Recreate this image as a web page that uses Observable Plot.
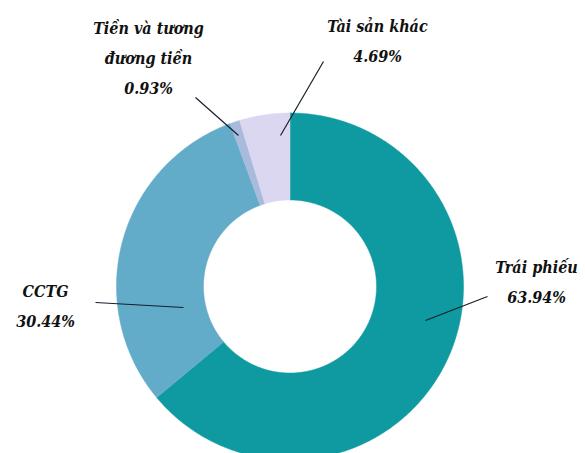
<!DOCTYPE html>
<html>
<head>
<meta charset="utf-8">
<script src="https://cdn.jsdelivr.net/npm/d3@7"></script>
<script src="https://cdn.jsdelivr.net/npm/@observablehq/plot@0.6"></script>
<style>
  html, body { margin: 0; padding: 0; background: #fff; }
  #chart { width: 585px; height: 453px; overflow: hidden; }
  #chart text { font-stretch: condensed; }
</style>
</head>
<body>
<div id="chart"></div>
<script>
// ---- data ----
const categories = ["Trái phiếu", "CCTG", "Tiền và tương đương tiền", "Tài sản khác"];
const labelTexts = ["Trái phiếu", "CCTG", "Tiền và tương\nđương tiền", "Tài sản khác"];
const shares = [63.94, 30.44, 0.93, 4.69];
const colors = ["#0e9aa0", "#62abc9", "#a9bbdc", "#dbd7f0"];

// ---- layout (pixel space) ----
const W = 585, H = 453;
const cx = 289.5, cy = 286, rOuter = 173.5, rInner = 86.5;
const labelLayout = [
  {tx: 536, ty: 266, lx1: 487, ly1: 296, lx2: 425, ly2: 320},
  {tx: 45,  ty: 290, lx1: 95,  ly1: 302, lx2: 183, ly2: 307},
  {tx: 148, ty: 27,  lx1: 195, ly1: 97,  lx2: 238, ly2: 135},
  {tx: 377, ty: 25,  lx1: 323, ly1: 61,  lx2: 280, ly2: 135}
];

const table = categories.map((c, i) => ({category: c, value: shares[i], label: labelTexts[i]}));

const pie = d3.pie().value(d => d.value).sort(null)(table);
const polyPts = [];
pie.forEach(p => {
  const n = Math.max(8, Math.ceil((p.endAngle - p.startAngle) / 0.01));
  const pts = [];
  for (let k = 0; k <= n; k++) {
    const a = p.startAngle + (p.endAngle - p.startAngle) * k / n;
    pts.push([cx + rOuter * Math.sin(a), cy - rOuter * Math.cos(a)]);
  }
  for (let k = n; k >= 0; k--) {
    const a = p.startAngle + (p.endAngle - p.startAngle) * k / n;
    pts.push([cx + rInner * Math.sin(a), cy - rInner * Math.cos(a)]);
  }
  pts.push(pts[0]);
  pts.forEach(([x, y]) => polyPts.push({category: p.data.category, x, y}));
});

const labels = table.map((d, i) => ({
  ...d,
  x: labelLayout[i].tx,
  y: labelLayout[i].ty,
  text: d.label + "\n" + d.value.toFixed(2) + "%"
}));
const leaders = table.map((d, i) => ({
  x1: labelLayout[i].lx1, y1: labelLayout[i].ly1,
  x2: labelLayout[i].lx2, y2: labelLayout[i].ly2
}));

const chart = Plot.plot({
  width: W,
  height: H,
  margin: 0,
  x: {domain: [0, W], range: [0, W], axis: null},
  y: {domain: [0, H], range: [0, H], axis: null},
  color: {domain: categories, range: colors},
  style: {background: "#fff"},
  marks: [
    Plot.line(polyPts, {x: "x", y: "y", z: "category", fill: "category", stroke: "category", strokeWidth: 0.5, curve: "linear"}),
    Plot.link(leaders, {x1: "x1", y1: "y1", x2: "x2", y2: "y2", stroke: "#15202a", strokeWidth: 1.2}),
    Plot.text(labels, {
      x: "x", y: "y", text: "text",
      lineAnchor: "top",
      dy: -15,
      lineHeight: 1.875,
      fontFamily: "DejaVu Serif",
      fontStyle: "italic",
      fontWeight: "bold",
      fontSize: 16,
      fill: "#111",
      textAnchor: "middle"
    })
  ]
});
document.getElementById("chart").appendChild(chart);
</script>
</body>
</html>
